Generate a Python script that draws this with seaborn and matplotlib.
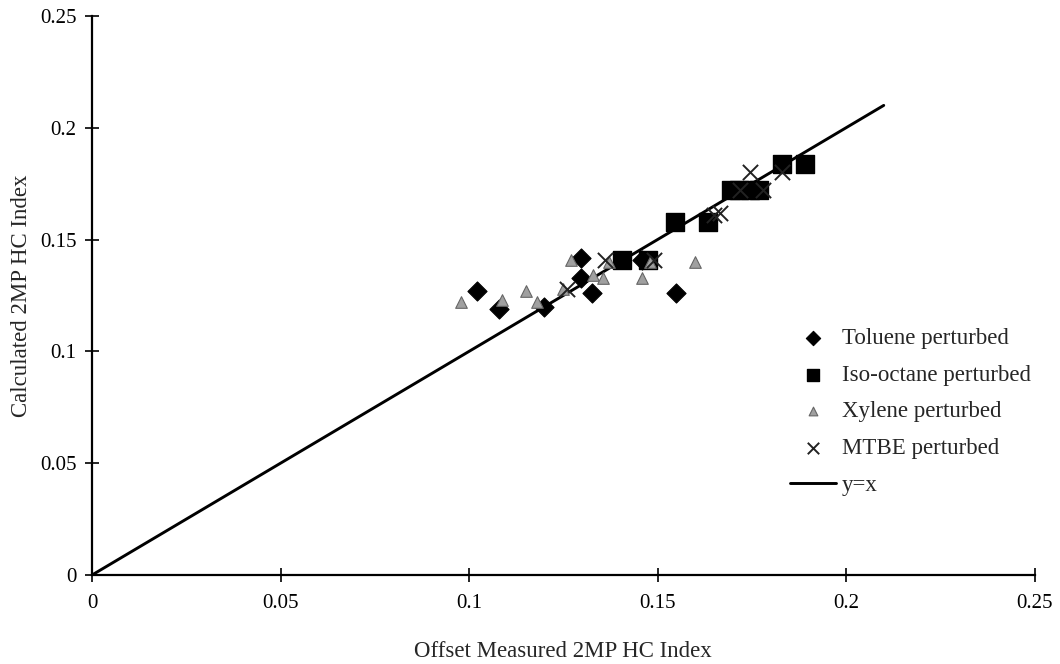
import pandas as pd
import numpy as np
import matplotlib
matplotlib.use("Agg")
import matplotlib.pyplot as plt
import seaborn as sns

# values
toluene_x = [0.102, 0.108, 0.120, 0.1296, 0.1296, 0.1326, 0.146, 0.155]
toluene_y = [0.127, 0.119, 0.120, 0.1418, 0.133, 0.126, 0.141, 0.126]

isooctane_x = [0.1405, 0.1475, 0.1546, 0.1633, 0.1695, 0.1715, 0.1745, 0.177, 0.183, 0.189]
isooctane_y = [0.141, 0.141, 0.158, 0.158, 0.172, 0.172, 0.172, 0.172, 0.184, 0.184]

xylene_x = [0.098, 0.1087, 0.115, 0.118, 0.125, 0.127, 0.133, 0.1355, 0.137, 0.146, 0.148, 0.160]
xylene_y = [0.122, 0.123, 0.127, 0.122, 0.128, 0.141, 0.134, 0.133, 0.140, 0.133, 0.140, 0.140]

mtbe_x = [0.126, 0.136, 0.149, 0.165, 0.1665, 0.172, 0.1745, 0.178, 0.183]
mtbe_y = [0.128, 0.141, 0.141, 0.161, 0.162, 0.172, 0.180, 0.172, 0.180]

line_x = [0, 0.21]
line_y = [0, 0.21]

ticks = [0, 0.05, 0.1, 0.15, 0.2, 0.25]
tick_labels = ["0", "0.05", "0.1", "0.15", "0.2", "0.25"]

sns.set_style("white")
plt.rcParams['font.family'] = ['Liberation Serif', 'DejaVu Serif']

f, ax = plt.subplots(figsize=(10.6, 6.64), dpi=100)
f.subplots_adjust(left=0.0868, right=0.976, bottom=0.134, top=0.976)

sns.lineplot(x=line_x, y=line_y, color="black", linewidth=2.1, label="y=x", ax=ax, zorder=2)
sns.scatterplot(x=toluene_x, y=toluene_y, marker="D", s=95, color="black",
                edgecolor="black", label="Toluene perturbed", ax=ax, zorder=3)
sns.scatterplot(x=isooctane_x, y=isooctane_y, marker="s", s=150, color="black",
                edgecolor="black", label="Iso-octane perturbed", ax=ax, zorder=3)
sns.scatterplot(x=xylene_x, y=xylene_y, marker="^", s=70, color="#a0a0a0",
                edgecolor="#666666", linewidth=0.8, label="Xylene perturbed", ax=ax, zorder=4)
sns.scatterplot(x=mtbe_x, y=mtbe_y, marker="x", s=120, color="#222222",
                linewidth=1.4, label="MTBE perturbed", ax=ax, zorder=4)

ax.set_xlim(0, 0.25)
ax.set_ylim(0, 0.25)
ax.set_xticks(ticks)
ax.set_xticklabels(tick_labels)
ax.set_yticks(ticks)
ax.set_yticklabels(tick_labels)
ax.tick_params(bottom=True, left=True, direction="inout", length=10, width=1.2,
               labelsize=15, colors="black")
ax.tick_params(axis="x", pad=9)
ax.tick_params(axis="y", pad=6)
sns.despine(ax=ax)
for sp in ["left", "bottom"]:
    ax.spines[sp].set_color("black")
    ax.spines[sp].set_linewidth(1.6)

ax.set_xlabel("Offset Measured 2MP HC Index", fontsize=16.5, labelpad=20)
ax.set_ylabel("Calculated 2MP HC Index", fontsize=16.5, labelpad=6)

handles, labels = ax.get_legend_handles_labels()
order = [labels.index(n) for n in ["Toluene perturbed", "Iso-octane perturbed",
                                   "Xylene perturbed", "MTBE perturbed", "y=x"]]
ax.legend([handles[i] for i in order], [labels[i] for i in order],
          loc="upper left", bbox_to_anchor=(790 / 1060, 1 - 328 / 664),
          bbox_transform=f.transFigure, frameon=False, borderpad=0, borderaxespad=0,
          fontsize=16.5, handlelength=2.0, labelspacing=0.68, handletextpad=0.25,
          markerscale=0.75)

plt.savefig("out.png", dpi=100)
